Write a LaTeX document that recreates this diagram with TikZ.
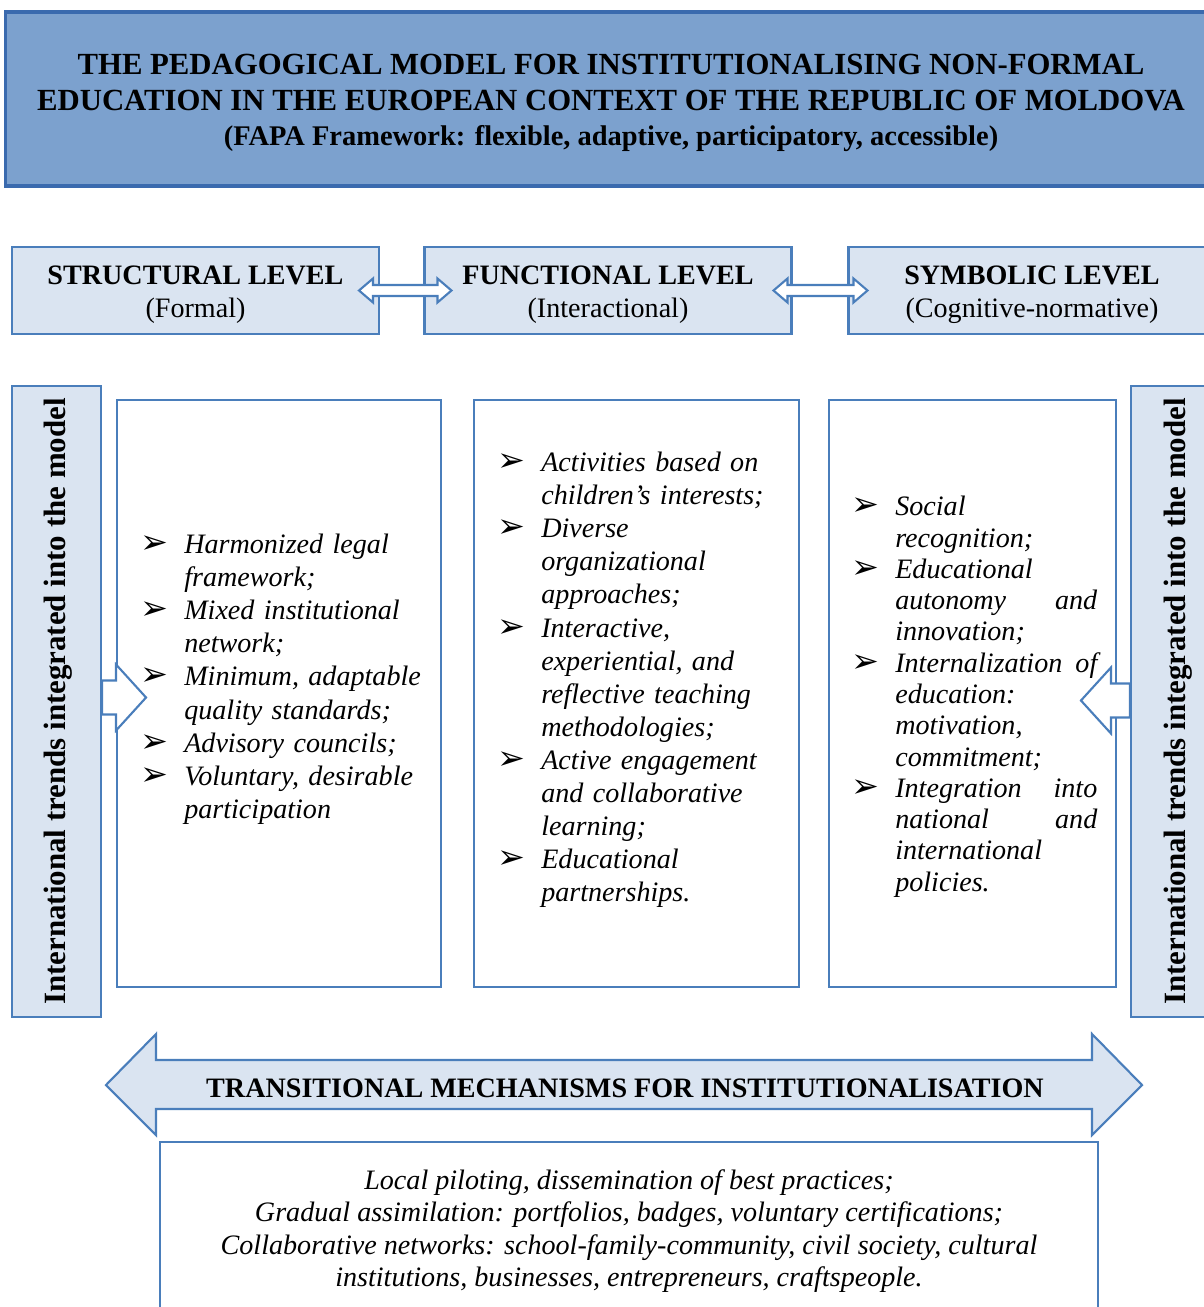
\documentclass[tikz,border=0pt]{standalone}
\usepackage{fontspec}
\setmainfont{Liberation Serif}
\newfontfamily\symfont{DejaVu Sans}
\usetikzlibrary{calc}
\hyphenpenalty=10000

\definecolor{titlefill}{RGB}{124,161,206}
\definecolor{titleline}{RGB}{58,106,174}
\definecolor{lightfill}{RGB}{218,228,241}
\definecolor{boxline}{RGB}{74,126,187}

\newcommand{\bul}{\makebox[25pt][l]{\symfont\upshape\fontsize{19}{16}\selectfont ➢}}
\newcommand{\ind}{\hspace*{25pt}}
% hollow double arrow between two points on one line
\newcommand{\dblarrow}[2]{%
  \draw[hollow] (#1) -- ($(#1)+(14,-12)$) -- ($(#1)+(14,-5.5)$) -- ($(#2)+(-14,-5.5)$)
    -- ($(#2)+(-14,-12)$) -- (#2) -- ($(#2)+(-14,12)$) -- ($(#2)+(-14,5.5)$)
    -- ($(#1)+(14,5.5)$) -- ($(#1)+(14,12)$) -- cycle;}

\begin{document}
\begin{tikzpicture}[x=0.02cm,y=-0.02cm,
  levelbox/.style={draw=boxline,line width=1.2pt,fill=lightfill,minimum width=7.34cm,
    minimum height=1.74cm},
  leveltext/.style={align=center,inner sep=0pt,font=\fontsize{16}{18.8}\selectfont},
  sidebar/.style={draw=boxline,line width=1.2pt,fill=lightfill,minimum height=12.62cm},
  trendtext/.style={rotate=90,font=\bfseries\fontsize{17.6}{19}\selectfont},
  listbox/.style={draw=boxline,line width=1.2pt,fill=white,minimum height=11.74cm},
  itemtext/.style={align=left,inner sep=0pt,anchor=north west,
    font=\fontsize{16}{18.8}\selectfont\itshape},
  hollow/.style={draw=boxline,line width=1.2pt,fill=white,line join=miter}
]
\useasboundingbox (0,0) rectangle (1203,1307);

% title
\node[draw=titleline,line width=1.8pt,fill=titlefill,minimum width=24.2cm,minimum height=3.48cm] (title) at (610,99) {};
\node[align=center,font=\bfseries\fontsize{17.5}{20}\selectfont] (titletxt) at (611,103)
  {THE PEDAGOGICAL MODEL FOR INSTITUTIONALISING NON-FORMAL\\
   EDUCATION IN THE EUROPEAN CONTEXT OF THE REPUBLIC OF MOLDOVA\\
   {\fontsize{16.2}{20}\selectfont (FAPA Framework: flexible, adaptive, participatory, accessible)}};

% levels
\node[levelbox] (struct) at (195.5,290.5) {};
\node[levelbox] (func) at (608,290.5) {};
\node[levelbox] (symb) at (1032,290.5) {};
\node[leveltext] (structtxt) at ($(struct)+(0,4)$) {\textbf{STRUCTURAL LEVEL}\\(Formal)};
\node[leveltext] (functxt) at ($(func)+(0,4)$) {\textbf{FUNCTIONAL LEVEL}\\(Interactional)};
\node[leveltext] (symbtxt) at ($(symb)+(0,4)$) {\textbf{SYMBOLIC LEVEL}\\(Cognitive-normative)};

\coordinate (a1) at ($(struct.east)+(-21,0)$);
\coordinate (b1) at ($(func.west)+(28,0)$);
\coordinate (a2) at ($(func.east)+(-19,0)$);
\coordinate (b2) at ($(symb.west)+(20,0)$);
\dblarrow{a1}{b1}
\dblarrow{a2}{b2}

% side bars
\node[sidebar,minimum width=1.78cm] (lbar) at (56.5,701.5) {};
\node[sidebar,minimum width=1.82cm] (rbar) at (1176.5,701.5) {};
\node[trendtext] (ltrend) at ($(lbar)+(2,0)$) {International trends integrated into the model};
\node[trendtext] (rtrend) at ($(rbar)+(2,0)$) {International trends integrated into the model};

% content boxes
\node[listbox,minimum width=6.48cm] (box1) at (279,693.5) {};
\node[listbox,minimum width=6.5cm] (box2) at (636.5,693.5) {};
\node[listbox,minimum width=5.74cm] (box3) at (972.5,693.5) {};

\node[itemtext,text width=6cm] (list1) at (140,534) {%
  \bul Harmonized legal\\ \ind framework;\\
  \bul Mixed institutional\\ \ind network;\\
  \bul Minimum, adaptable\\ \ind quality standards;\\
  \bul Advisory councils;\\
  \bul Voluntary, desirable\\ \ind participation};
\node[itemtext,text width=6cm] (list2) at (497,452) {%
  \bul Activities based on\\ \ind children’s interests;\\
  \bul Diverse\\ \ind organizational\\ \ind approaches;\\
  \bul Interactive,\\ \ind experiential, and\\ \ind reflective teaching\\ \ind methodologies;\\
  \bul Active engagement\\ \ind and collaborative\\ \ind learning;\\
  \bul Educational\\ \ind partnerships.};
\node[itemtext,text width=4.92cm,font=\fontsize{16}{17.8}\selectfont\itshape] (list3) at (851,496) {%
  \bul Social\\ \ind recognition;\\
  \bul Educational\\ \ind autonomy\hfill and\\ \ind innovation;\\
  \bul Internalization\hfill of\\ \ind education:\\ \ind motivation,\\ \ind commitment;\\
  \bul Integration\hfill into\\ \ind national\hfill and\\ \ind international\\ \ind policies.};

% arrows from the bars
\draw[hollow] (lbar.east) ++(0,-21) -- ++(14,0) -- ++(0,-16) -- ++(30,33) -- ++(-30,33)
  -- ++(0,-16) -- ++(-14,0) -- cycle;
\draw[hollow] (rbar.west) ++(0,-18) -- ++(-19,0) -- ++(0,-16) -- ++(-30,33) -- ++(30,33)
  -- ++(0,-16) -- ++(19,0) -- cycle;

% transitional mechanisms
\draw[draw=boxline,line width=1.2pt,fill=lightfill,line join=miter] (106,1085) -- (156,1034) -- (156,1060)
  -- (1092,1060) -- (1092,1034) -- (1142,1085) -- (1092,1135) -- (1092,1109) -- (156,1109)
  -- (156,1135) -- cycle;
\node[font=\bfseries\fontsize{16}{18}\selectfont] (trans) at (625,1088) {TRANSITIONAL MECHANISMS FOR INSTITUTIONALISATION};

\node[draw=boxline,line width=1.2pt,fill=white,minimum width=18.76cm,minimum height=3.56cm] (mechbox) at (629,1231) {};
\node[align=center,font=\fontsize{16}{18.5}\selectfont\itshape] (mech) at (629,1231)
  {Local piloting, dissemination of best practices;\\
   Gradual assimilation: portfolios, badges, voluntary certifications;\\
   Collaborative networks: school-family-community, civil society, cultural\\
   institutions, businesses, entrepreneurs, craftspeople.};
\end{tikzpicture}
\end{document}
